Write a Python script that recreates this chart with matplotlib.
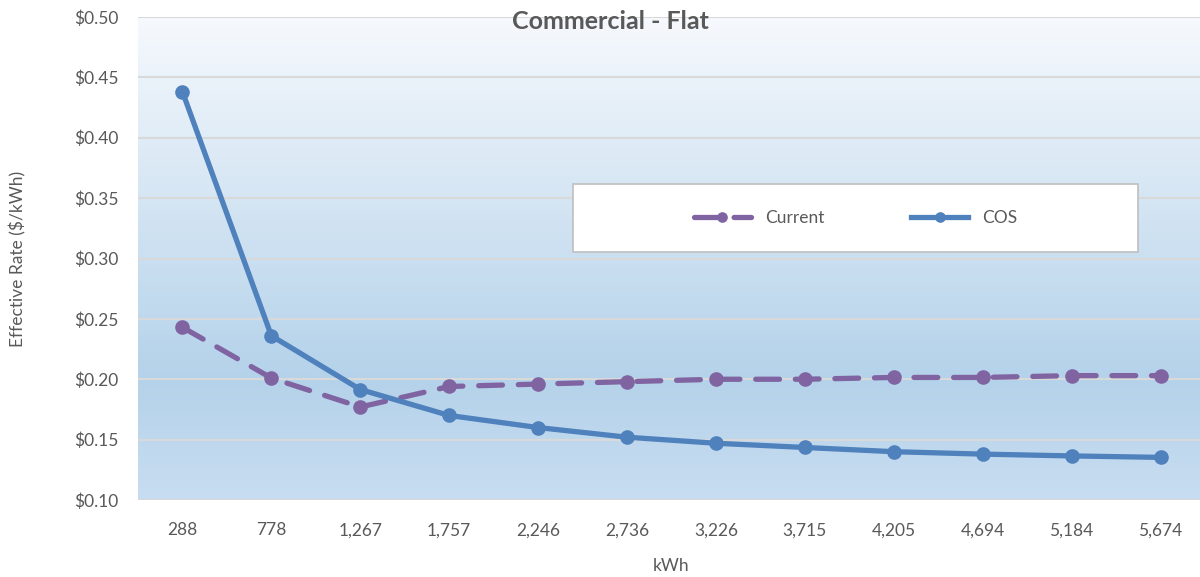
import numpy as np
import matplotlib.pyplot as plt
from matplotlib.patches import Rectangle
from matplotlib.colors import LinearSegmentedColormap
from matplotlib.ticker import FuncFormatter

plt.rcParams['font.family'] = ['Lato', 'DejaVu Sans']

# data
kwh = ['288', '778', '1,267', '1,757', '2,246', '2,736', '3,226', '3,715',
       '4,205', '4,694', '5,184', '5,674']
current = [0.243, 0.201, 0.177, 0.194, 0.196, 0.198, 0.200, 0.200,
           0.2015, 0.2015, 0.203, 0.203]
cos = [0.438, 0.236, 0.1915, 0.170, 0.160, 0.152, 0.147, 0.1435,
       0.140, 0.138, 0.1365, 0.1353]

grey = '#595959'
fig = plt.figure(figsize=(12, 5.77), dpi=100)
ax = fig.add_axes([138/1200, 77/577, 1067/1200, 483/577])

# gradient background, white at top to light blue
cmap = LinearSegmentedColormap.from_list(
    'bg', [(0, '#c8ddf1'), (0.25, '#b4d2ea'), (1, '#f6f9fd')])
grad = np.linspace(0, 1, 256).reshape(-1, 1)
ax.imshow(grad, aspect='auto', cmap=cmap, origin='lower',
          extent=(0, 1, 0, 1), transform=ax.transAxes, zorder=0)

x = np.arange(len(kwh))
ax.plot(x, current, color='#8064a2', lw=3.8, ls=(0, (4.5, 3)),
        dash_capstyle='round', marker='o', ms=9.5, label='Current', zorder=3)
ax.plot(x, cos, color='#4f81bd', lw=3.8, marker='o', ms=9.5,
        label='COS', zorder=4)

ax.set_xlim(-0.5, len(kwh) - 0.5)
ax.set_ylim(0.10, 0.50)
ax.set_yticks(np.arange(0.10, 0.501, 0.05))
ax.yaxis.set_major_formatter(FuncFormatter(lambda v, p: f'${v:.2f}'))
ax.set_xticks(x)
ax.set_xticklabels(kwh)
ax.grid(axis='y', color='#d9d9d9', lw=1.5, zorder=1)
ax.set_axisbelow(True)
for s in ax.spines.values():
    s.set_visible(False)
ax.tick_params(length=0, labelsize=12.5, colors=grey, pad=14)
ax.tick_params(axis='x', pad=16)

ax.set_ylabel('Effective Rate ($/kWh)', fontsize=12.5, color=grey, labelpad=34)
ax.set_xlabel('kWh', fontsize=12.5, color=grey, labelpad=14)
ax.text(0.443, 0.99, 'Commercial - Flat', transform=ax.transAxes,
        ha='center', va='center', fontsize=18, fontweight='bold', color=grey)

# legend box
bx, by = (573-138)/1067, (500-252)/483
bw, bh = (1138-573)/1067, (252-184)/483
ax.add_patch(Rectangle((bx, by), bw, bh, transform=ax.transAxes,
                       facecolor='white', edgecolor='#bfbfbf', lw=1.2, zorder=5))
leg = ax.legend(loc='center', bbox_to_anchor=(bx + bw/2, by + bh/2),
                ncol=2, frameon=False, fontsize=12.5, handlelength=3.3,
                columnspacing=5, markerscale=0.7, labelcolor=grey)
leg.set_zorder(6)

fig.savefig('out.png', dpi=100)
